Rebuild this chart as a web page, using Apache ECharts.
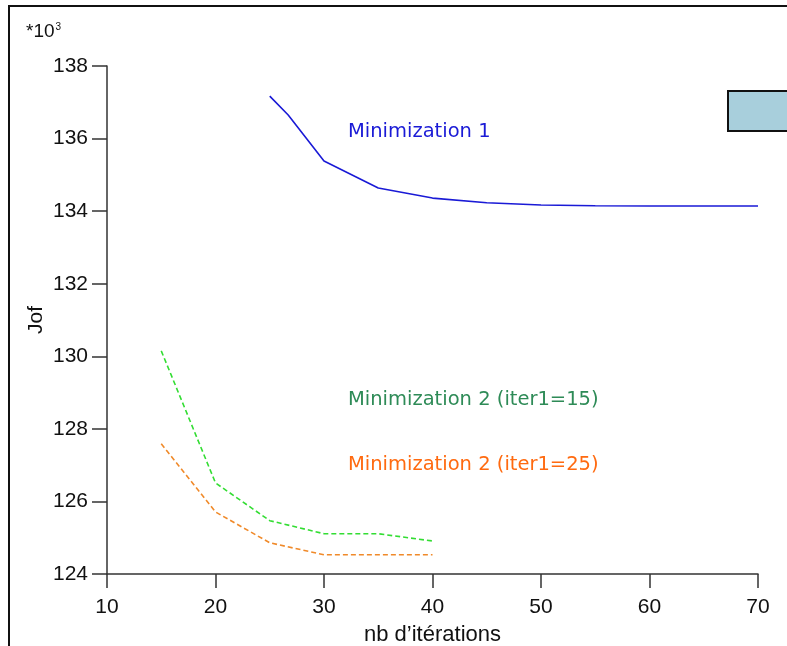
<!DOCTYPE html>
<html>
<head>
<meta charset="utf-8">
<script src="https://cdn.jsdelivr.net/npm/echarts@6/dist/echarts.min.js"></script>
<style>
  html, body { margin: 0; padding: 0; background: #fff; }
  #chart { width: 787px; height: 646px; }
</style>
</head>
<body>
<div id="chart"></div>
<script>
// iterations / Jof values (in thousands)
var min1X = [25, 26.7, 30, 35, 40, 45, 50, 55, 60, 65, 70];
var min1Y = [137.17, 136.65, 135.38, 134.64, 134.36, 134.23, 134.17, 134.15, 134.14, 134.14, 134.14];

var min2aX = [15, 20, 25, 30, 35, 40];
var min2aY = [130.15, 126.51, 125.47, 125.11, 125.11, 124.91];

var min2bX = [15, 20, 25, 30, 35, 40];
var min2bY = [127.59, 125.71, 124.86, 124.53, 124.53, 124.53];

var xTicks = [10, 20, 30, 40, 50, 60, 70];
var yTicks = [124, 126, 128, 130, 132, 134, 136, 138];

function pairs(xs, ys) {
    var out = [];
    for (var i = 0; i < xs.length; i++) {
        out.push([xs[i], ys[i]]);
    }
    return out;
}

var axisFont = 'Liberation Sans, Arial, sans-serif';
var noteFont = '"Comic Sans MS", "DejaVu Sans", sans-serif';

var myChart = echarts.init(document.getElementById('chart'));

var option = {
    animation: false,
    backgroundColor: '#fff',
    grid: { left: 107, right: 29, top: 66, bottom: 72, outerBoundsMode: 'none', containLabel: false },
    xAxis: {
        type: 'value',
        min: xTicks[0],
        max: xTicks[xTicks.length - 1],
        interval: 10,
        name: 'nb d\u2019itérations',
        nameLocation: 'middle',
        nameGap: 50,
        nameTextStyle: { color: '#111', fontSize: 22, fontFamily: axisFont },
        axisLine: { lineStyle: { color: '#333', width: 1.5 } },
        axisTick: { show: true, inside: false, length: 14, lineStyle: { color: '#333', width: 1.5 } },
        axisLabel: { color: '#111', fontSize: 21, fontFamily: axisFont, margin: 23 },
        splitLine: { show: false }
    },
    yAxis: {
        type: 'value',
        min: yTicks[0],
        max: yTicks[yTicks.length - 1],
        interval: 2,
        name: 'Jof',
        nameLocation: 'middle',
        nameGap: 60,
        nameMoveOverlap: false,
        nameRotate: 90,
        nameTextStyle: { color: '#111', fontSize: 21, fontFamily: axisFont },
        axisLine: { show: true, lineStyle: { color: '#333', width: 1.5 } },
        axisTick: { show: true, inside: false, length: 15, lineStyle: { color: '#333', width: 1.5 } },
        axisLabel: { color: '#111', fontSize: 21, fontFamily: axisFont, margin: 19 },
        splitLine: { show: false }
    },
    series: [
        {
            name: 'Minimization 1',
            type: 'line',
            data: pairs(min1X, min1Y),
            showSymbol: false,
            lineStyle: { color: '#1a1ad6', width: 1.6 }
        },
        {
            name: 'Minimization 2 (iter1=15)',
            type: 'line',
            data: pairs(min2aX, min2aY),
            showSymbol: false,
            lineStyle: { color: '#33dd33', width: 1.6, type: [5, 3] }
        },
        {
            name: 'Minimization 2 (iter1=25)',
            type: 'line',
            data: pairs(min2bX, min2bY),
            showSymbol: false,
            lineStyle: { color: '#f08a2a', width: 1.6, type: [5, 3] }
        }
    ],
    graphic: [
        {
            type: 'rect',
            shape: { x: 9, y: 6, width: 800, height: 660 },
            style: { fill: 'none', stroke: '#111', lineWidth: 2 },
            z: 0
        },
        {
            type: 'rect',
            shape: { x: 728, y: 91, width: 70, height: 40 },
            style: { fill: '#a8cfdc', stroke: '#111', lineWidth: 2 }
        },
        {
            type: 'text',
            left: 26,
            top: 22,
            style: {
                text: '{a|*10}{b|3}',
                rich: {
                    a: { fontSize: 19, fontFamily: axisFont, fill: '#111' },
                    b: { fontSize: 10, fontFamily: axisFont, fill: '#111', verticalAlign: 'top', padding: [0, 0, 10, 1] }
                }
            }
        },
        {
            type: 'text',
            left: 348,
            top: 122,
            style: { text: 'Minimization 1', fill: '#1a1ad6', fontSize: 19.5, fontFamily: noteFont }
        },
        {
            type: 'text',
            left: 348,
            top: 390,
            style: { text: 'Minimization 2 (iter1=15)', fill: '#2e8b57', fontSize: 19.5, fontFamily: noteFont }
        },
        {
            type: 'text',
            left: 348,
            top: 455,
            style: { text: 'Minimization 2 (iter1=25)', fill: '#ff6a10', fontSize: 19.5, fontFamily: noteFont }
        }
    ]
};

myChart.setOption(option);
</script>
</body>
</html>
